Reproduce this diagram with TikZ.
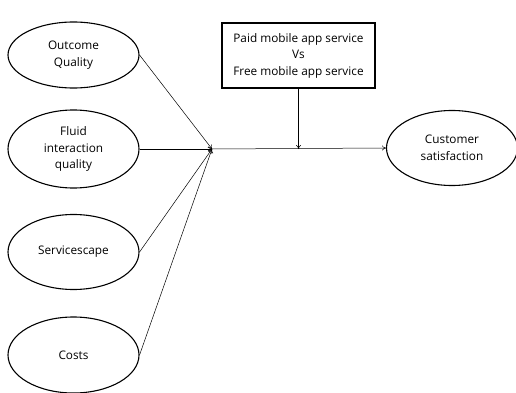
\documentclass[tikz,border=0pt]{standalone}
\usepackage{fontspec}
\setmainfont{Open Sans}
\usetikzlibrary{shapes.geometric,arrows.meta}
\begin{document}
\begin{tikzpicture}[x=1pt,y=-1pt,
  oval/.style={draw,ellipse,line width=1.1pt,minimum width=131pt,minimum height=#1,inner sep=0pt,align=center,font=\fontsize{11.8}{16.5}\selectfont},
  oval/.default=66pt,
  modbox/.style={draw,line width=1.1pt,minimum width=153pt,minimum height=65pt,inner sep=0pt,align=center,font=\fontsize{11.8}{16.5}\selectfont},
  conn/.style={line width=0.5pt,-{To[length=4pt,width=5pt]}}]
\useasboundingbox (0,0) rectangle (516,393);
\node[oval=66pt] (oq) at (73.5,55) {Outcome\\Quality};
\node[oval=78pt] (fi) at (73.5,149) {Fluid\\interaction\\quality};
\node[oval=75pt] (sv) at (73.5,252) {Servicescape};
\node[oval=76pt] (co) at (73.5,355) {Costs};
\node[oval=75pt] (cs) at (452,148) {Customer\\satisfaction};
\node[modbox] (md) at (298.5,55.5) {Paid mobile app service\\Vs\\Free mobile app service};
\coordinate (m) at (212,149);
\coordinate (j) at (md.south |- m);
\draw[conn] (oq.east) -- (m);
\draw[conn] (fi.east) -- (m);
\draw[conn] (sv.east) -- (m);
\draw[conn] (co.east) -- (m);
\draw[conn] (m) -- (cs.west);
\draw[conn] (md.south) -- (j);
\end{tikzpicture}
\end{document}
